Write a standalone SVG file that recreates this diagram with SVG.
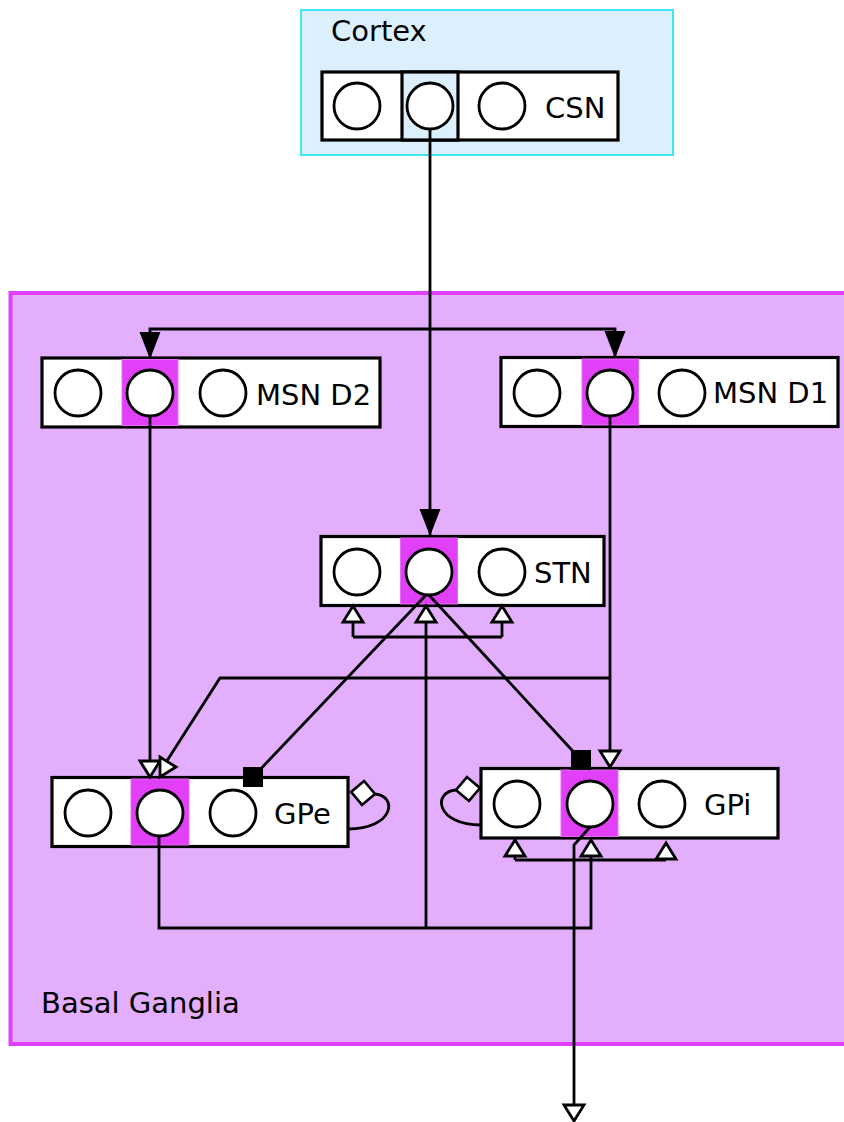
<svg xmlns="http://www.w3.org/2000/svg" width="844" height="1122" viewBox="0 0 844 1122">
  <style>
    .lbl { font-family: "DejaVu Sans", "Liberation Sans", sans-serif; font-size: 29px; fill: #000; }
    .box { fill: #fff; stroke: #000; stroke-width: 3.2; }
    .cell { fill: #e23ff9; stroke: #e86af9; stroke-width: 1; }
    .cell-ctx { fill: #dbf0fc; stroke: #000; stroke-width: 3.2; }
    .unit { fill: #fff; stroke: #000; stroke-width: 2.8; }
    .wire { fill: none; stroke: #000; stroke-width: 2.8; }
  </style>
  <defs>
    <!-- excitatory projection: solid arrowhead -->
    <marker id="arrow" markerUnits="userSpaceOnUse" markerWidth="30" markerHeight="24" viewBox="-29 -12 30 24" refX="0" refY="0" orient="auto" overflow="visible">
      <path d="M0,0 L-27,-10.5 L-27,10.5 z" fill="#000"/>
    </marker>
    <!-- open triangle head -->
    <marker id="tri" markerUnits="userSpaceOnUse" markerWidth="22" markerHeight="26" viewBox="-19 -13 22 26" refX="0" refY="0" orient="auto" overflow="visible">
      <path d="M0,0 L-16,-10 L-16,10 z" fill="#fff" stroke="#000" stroke-width="2.8" stroke-linejoin="miter"/>
    </marker>
    <!-- inhibitory projection: filled square -->
    <marker id="square" markerUnits="userSpaceOnUse" markerWidth="24" markerHeight="24" viewBox="-12 -12 24 24" refX="0" refY="0" orient="0" overflow="visible">
      <rect x="-10" y="-10" width="20" height="20" fill="#000"/>
    </marker>
    <!-- recurrent collateral: open diamond -->
    <marker id="diamond" markerUnits="userSpaceOnUse" markerWidth="30" markerHeight="30" viewBox="-3 -15 30 30" refX="0" refY="0" orient="auto" overflow="visible">
      <path d="M0,0 L12,-12 L24,0 L12,12 z" fill="#fff" stroke="#000" stroke-width="2.6"/>
    </marker>
  </defs>

  <rect width="844" height="1122" fill="#fff"/>

  <!-- regions -->
  <g id="basal-ganglia">
    <rect x="10.5" y="293" width="845" height="751" fill="#e3aefc" stroke="#e040fb" stroke-width="4"/>
    <text class="lbl" x="41" y="1013">Basal Ganglia</text>
  </g>
  <g id="cortex">
    <rect x="301" y="10" width="372" height="145" fill="#dbf0fc" stroke="#3fe6f6" stroke-width="2"/>
    <text class="lbl" x="331" y="41">Cortex</text>
  </g>

  <!-- populations -->
  <g id="csn">
    <rect class="box" x="322" y="72" width="296" height="68"/>
    <rect class="cell-ctx" x="402" y="72" width="56" height="68"/>
    <circle class="unit" cx="357" cy="106" r="23"/>
    <circle class="unit" cx="430" cy="106" r="23"/>
    <circle class="unit" cx="502" cy="106" r="23"/>
    <text class="lbl" x="545" y="118">CSN</text>
  </g>

  <g id="msn-d2">
    <rect class="box" x="42" y="358" width="338" height="69"/>
    <rect class="cell" x="122" y="359.5" width="56" height="66"/>
    <circle class="unit" cx="78" cy="393" r="23"/>
    <circle class="unit" cx="150" cy="393" r="23"/>
    <circle class="unit" cx="223" cy="393" r="23"/>
    <text class="lbl" x="256" y="405">MSN D2</text>
  </g>

  <g id="msn-d1">
    <rect class="box" x="501" y="357.5" width="337" height="69"/>
    <rect class="cell" x="582" y="359" width="56.5" height="66"/>
    <circle class="unit" cx="537" cy="393" r="23"/>
    <circle class="unit" cx="610" cy="393" r="23"/>
    <circle class="unit" cx="682" cy="393" r="23"/>
    <text class="lbl" x="713" y="403">MSN D1</text>
  </g>

  <g id="stn">
    <rect class="box" x="321" y="536.5" width="283" height="69"/>
    <rect class="cell" x="400.5" y="538" width="57" height="66"/>
    <circle class="unit" cx="357" cy="572" r="23"/>
    <circle class="unit" cx="429" cy="572" r="23"/>
    <circle class="unit" cx="502" cy="572" r="23"/>
    <text class="lbl" x="534" y="583">STN</text>
  </g>

  <g id="gpe">
    <rect class="box" x="52" y="777.5" width="296" height="69"/>
    <rect class="cell" x="131" y="779" width="58" height="66"/>
    <circle class="unit" cx="88" cy="813" r="23"/>
    <circle class="unit" cx="160" cy="813" r="23"/>
    <circle class="unit" cx="233" cy="813" r="23"/>
    <text class="lbl" x="274" y="824">GPe</text>
  </g>

  <g id="gpi">
    <rect class="box" x="481" y="768.5" width="297" height="69.5"/>
    <rect class="cell" x="561" y="770" width="57" height="66.5"/>
    <circle class="unit" cx="517" cy="804" r="23"/>
    <circle class="unit" cx="590" cy="804" r="23"/>
    <circle class="unit" cx="662" cy="804" r="23"/>
    <text class="lbl" x="704" y="815">GPi</text>
  </g>

  <!-- projections -->
  <g id="connectors">
    <!-- cortex to STN and striatum -->
    <path class="wire" d="M430,129 V536" marker-end="url(#arrow)"/>
    <path class="wire" d="M430,329 H150 V359" marker-end="url(#arrow)"/>
    <path class="wire" d="M430,329 H615 V358" marker-end="url(#arrow)"/>

    <!-- striatum to pallidum -->
    <path class="wire" d="M150,416 V777" marker-end="url(#tri)"/>
    <path class="wire" d="M610,416 V767" marker-end="url(#tri)"/>
    <path class="wire" d="M610,678 H220 L163,767 H176" marker-end="url(#tri)"/>

    <!-- STN to pallidum -->
    <path class="wire" d="M426,595 L253,777" marker-end="url(#square)"/>
    <path class="wire" d="M429,595 L581,760" marker-end="url(#square)"/>

    <!-- GPe feedback to STN and GPi -->
    <path class="wire" d="M159,836 V928 H591 V840" marker-end="url(#tri)"/>
    <path class="wire" d="M426,928 V606" marker-end="url(#tri)"/>
    <path class="wire" d="M353,637 H502"/>
    <path class="wire" d="M353,637 V606" marker-end="url(#tri)"/>
    <path class="wire" d="M502,637 V606" marker-end="url(#tri)"/>

    <!-- GPi input bus -->
    <path class="wire" d="M515,860 H666"/>
    <path class="wire" d="M515,860 V840" marker-end="url(#tri)"/>
    <path class="wire" d="M666,860 V843" marker-end="url(#tri)"/>

    <!-- recurrent collaterals -->
    <path class="wire" d="M348,829 C394,829 398,796 375,794" marker-end="url(#diamond)"/>
    <path class="wire" d="M481,825 C436,825 432,792 456,790" marker-end="url(#diamond)"/>

    <!-- GPi output -->
    <path class="wire" d="M590,827 L574,845 V1121" marker-end="url(#tri)"/>
  </g>
</svg>
